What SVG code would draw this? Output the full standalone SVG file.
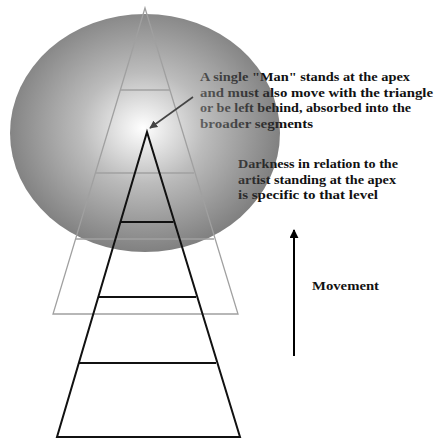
<svg xmlns="http://www.w3.org/2000/svg" width="437" height="438" viewBox="0 0 437 438">
<defs>
<radialGradient id="sph" cx="143" cy="128" r="138" gradientUnits="userSpaceOnUse" gradientTransform="translate(143 128) scale(1 0.9) translate(-143 -128)">
<stop offset="0" stop-color="#ffffff"/>
<stop offset="0.45" stop-color="#8f8f8f"/>
<stop offset="1" stop-color="#2c2c2c"/>
</radialGradient>
<marker id="ah" viewBox="0 0 10 10" refX="9" refY="5" markerWidth="5" markerHeight="5" orient="auto" markerUnits="strokeWidth">
<path d="M0,0 L10,5 L0,10 z" fill="#444"/>
</marker>
<marker id="ah2" viewBox="0 0 10 10" refX="9" refY="5" markerWidth="4.5" markerHeight="4.5" orient="auto" markerUnits="strokeWidth">
<path d="M0,0 L10,5 L0,10 z" fill="#000"/>
</marker>
</defs>
<style>
.t{font-family:"Liberation Serif","Times New Roman",serif;font-weight:bold;font-size:13.5px;fill:#111}
.g{fill:none;stroke:#a0a0a0;stroke-width:1.3}
.b{fill:none;stroke:#111;stroke-width:2}
</style>
<rect width="437" height="438" fill="#fff"/>
<g id="label-apex">
<text class="t" x="200" y="81" textLength="210" lengthAdjust="spacingAndGlyphs">A single "Man" stands at the apex</text>
<text class="t" x="200" y="96.5" textLength="233" lengthAdjust="spacingAndGlyphs">and must also move with the triangle</text>
<text class="t" x="200" y="112" textLength="211" lengthAdjust="spacingAndGlyphs">or be left behind, absorbed into the</text>
<text class="t" x="200" y="127.5" textLength="113" lengthAdjust="spacingAndGlyphs">broader segments</text>
</g>
<g id="label-darkness">
<text class="t" x="238" y="168" textLength="160" lengthAdjust="spacingAndGlyphs">Darkness in relation to the</text>
<text class="t" x="238" y="183.5" textLength="158" lengthAdjust="spacingAndGlyphs">artist standing at the apex</text>
<text class="t" x="238" y="199" textLength="140" lengthAdjust="spacingAndGlyphs">is specific to that level</text>
</g>
<g id="sphere" opacity="0.6">
<ellipse cx="145" cy="133" rx="135" ry="119" fill="url(#sph)"/>
</g>
<g id="gray-triangle">
<path class="g" d="M145,8 L53,314 L238,314 Z"/>
<line class="g" x1="120" y1="90" x2="170" y2="90"/>
<line class="g" x1="96" y1="173" x2="194" y2="173"/>
<line class="g" x1="76" y1="239" x2="214" y2="239"/>
</g>
<g id="black-triangle">
<path class="b" d="M147,132 L57,437 L240,437 Z"/>
<line class="b" x1="120.5" y1="222" x2="173.5" y2="222"/>
<line class="b" x1="98" y1="297" x2="196" y2="297"/>
<line class="b" x1="79" y1="363" x2="216" y2="363"/>
</g>
<g id="label-movement">
<text class="t" x="312" y="290" textLength="67" lengthAdjust="spacingAndGlyphs">Movement</text>
</g>
<g id="connectors">
<line x1="193" y1="97" x2="150" y2="128" stroke="#444" stroke-width="1.6" marker-end="url(#ah)"/>
<line x1="294" y1="356" x2="294" y2="230" stroke="#000" stroke-width="2" marker-end="url(#ah2)"/>
</g>
</svg>
